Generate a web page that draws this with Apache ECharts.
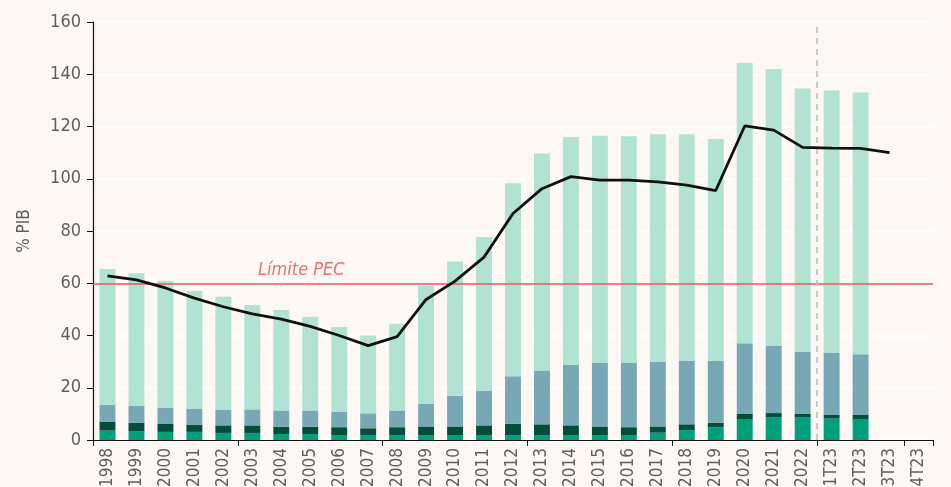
<!DOCTYPE html>
<html>
<head>
<meta charset="utf-8">
<style>
html,body{margin:0;padding:0;background:#fdf8f4;}
#chart{width:951px;height:487px;}
</style>
<script src="https://cdn.jsdelivr.net/npm/echarts@6/dist/echarts.min.js"></script>
</head>
<body>
<div id="chart"></div>
<script>
var categories = ["1998","1999","2000","2001","2002","2003","2004","2005","2006","2007","2008","2009","2010","2011","2012","2013","2014","2015","2016","2017","2018","2019","2020","2021","2022","1T23","2T23","3T23","4T23"];

// stacked segments, bottom to top
var segGreen = [3.6,3.4,3.1,3.1,2.7,2.7,2.3,2.3,1.9,1.9,1.9,1.9,1.9,1.9,1.9,1.9,1.9,1.9,1.9,2.8,3.8,4.9,7.8,8.6,8.6,8.2,7.8];
var segDark  = [3.3,3.2,3.2,2.8,2.9,2.9,2.8,2.8,3.0,2.6,3.0,3.3,3.3,3.7,4.3,4.1,3.7,3.3,3.0,2.4,2.2,1.7,2.2,1.7,1.4,1.4,1.8];
var segBlue  = [6.6,6.5,6.1,6.1,6.0,6.1,6.2,6.2,5.8,5.7,6.4,8.7,11.7,13.3,18.2,20.6,23.1,24.3,24.6,24.7,24.3,23.7,27.0,25.8,23.7,23.8,23.2];
var segMint  = [52.0,50.7,48.6,45.0,43.2,40.0,38.5,35.9,32.6,29.8,33.2,45.1,51.4,58.8,73.9,83.1,87.3,87.0,86.8,87.1,86.7,84.9,107.3,105.9,100.8,100.4,100.2];

var lineVals = [62.8,61.3,58.2,54.3,51.0,48.3,46.3,43.5,40.0,36.1,39.6,53.8,60.8,70.0,86.7,96.2,100.8,99.5,99.5,98.8,97.6,95.5,120.2,118.6,112.0,111.7,111.6,110.0,null];

var limitPEC = 60;
var forecastStart = 25; // boundary before 1T23

var textColor = "#5f5f5f";
var fontFam = "'DejaVu Sans Condensed','DejaVu Sans',sans-serif";

var chart = echarts.init(document.getElementById("chart"));

function barSeries(name, data, color){
	return {
		name: name,
		type: "bar",
		stack: "deuda",
		barWidth: "55%",
		data: data,
		itemStyle: {color: color},
		silent: true
	};
}

var series = [
	barSeries("s1", segGreen, "#00a07c"),
	barSeries("s2", segDark, "#054d3b"),
	barSeries("s3", segBlue, "#78a7b6"),
	barSeries("s4", segMint, "#b2e2d2"),
	{
		name: "total",
		type: "line",
		data: lineVals,
		symbol: "none",
		lineStyle: {color: "#111", width: 2.8},
		z: 5,
		markLine: {
			silent: true,
			symbol: "none",
			lineStyle: {color: "#e05a5a", width: 1.5, type: "solid"},
			label: {
				show: true,
				position: "insideStartTop",
				formatter: "Límite PEC",
				color: "#e87272",
				fontStyle: "italic",
				fontSize: 18,
				fontFamily: fontFam,
				distance: [165, 4]
			},
			data: [{yAxis: limitPEC}]
		}
	},
	{
		name: "sep",
		type: "line",
		xAxisIndex: 1,
		data: [],
		markLine: {
			silent: true,
			symbol: "none",
			label: {show: false},
			lineStyle: {color: "#bbbbbb", width: 1.5, type: [6, 5]},
			data: [{xAxis: forecastStart}]
		}
	}
];

var option = {
	backgroundColor: "#fdf8f4",
	animation: false,
	grid: {left: 93, right: 18, top: 22, bottom: 47, outerBoundsMode: "none", containLabel: false},
	xAxis: [{
		type: "category",
		data: categories,
		axisLine: {lineStyle: {color: "#111", width: 1.2}},
		axisTick: {show: true, interval: 4, length: 6, lineStyle: {color: "#111"}},
		axisLabel: {interval: 0, rotate: 90, color: textColor, fontSize: 17, fontFamily: fontFam, margin: 8},
		splitLine: {show: false}
	}, {
		type: "value",
		min: 0,
		max: categories.length,
		show: false
	}],
	yAxis: {
		type: "value",
		min: 0,
		max: 160,
		interval: 20,
		name: "% PIB",
		nameLocation: "middle",
		nameGap: 60,
		nameTextStyle: {color: textColor, fontSize: 17, fontFamily: fontFam},
		axisLine: {show: true, lineStyle: {color: "#111", width: 1.2}},
		axisTick: {show: true, length: 6, lineStyle: {color: "#111"}},
		axisLabel: {color: textColor, fontSize: 18, fontFamily: fontFam, margin: 12},
		splitLine: {lineStyle: {color: "#ffffff", width: 1.5}}
	},
	series: series
};

chart.setOption(option);
</script>
</body>
</html>
